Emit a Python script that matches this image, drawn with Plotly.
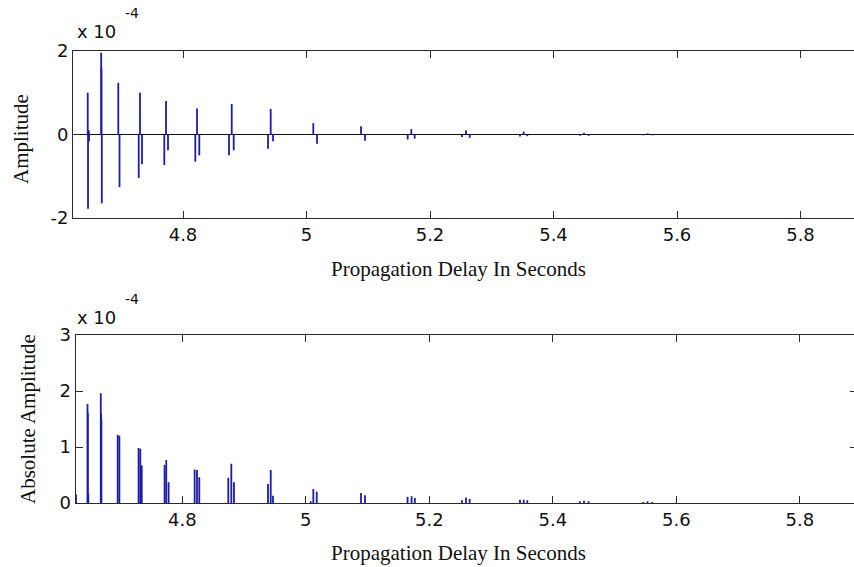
import plotly.graph_objects as go

# ---------------- data (amplitudes in units of 1e-4) ----------------
EXPONENT_LABEL = "-4"

top_delay = [4.6457, 4.6462, 4.6475, 4.6478,
             4.6675, 4.6680, 4.6685,
             4.6952, 4.6972,
             4.7283, 4.7304, 4.7336,
             4.7697, 4.7725, 4.7757,
             4.8199, 4.8227, 4.8264,
             4.8745, 4.8789, 4.8821,
             4.9377, 4.9420, 4.9458,
             5.0110, 5.0170,
             5.0883, 5.0947,
             5.1639, 5.1697, 5.1752,
             5.2518, 5.2583, 5.2643,
             5.3457, 5.3517, 5.3576,
             5.4429, 5.4494, 5.4570,
             5.5454, 5.5525, 5.5600]
top_amplitude = [1.00, -1.78, 0.10, -0.17,
                 1.96, 1.58, -1.65,
                 1.24, -1.26,
                 -1.04, 1.00, -0.71,
                 -0.73, 0.80, -0.38,
                 -0.65, 0.62, -0.50,
                 -0.50, 0.73, -0.38,
                 -0.34, 0.61, -0.16,
                 0.27, -0.22,
                 0.20, -0.15,
                 -0.12, 0.13, -0.10,
                 -0.06, 0.10, -0.08,
                 -0.05, 0.07, -0.04,
                 -0.03, 0.04, -0.03,
                 -0.02, 0.03, -0.02]

bottom_delay = [4.6279,
                4.6465, 4.6470, 4.6478,
                4.6680, 4.6685, 4.6690,
                4.6954, 4.6981,
                4.7292, 4.7320, 4.7343,
                4.7713, 4.7740, 4.7778,
                4.8200, 4.8238, 4.8275,
                4.8745, 4.8794, 4.8837,
                4.9388, 4.9432, 4.9469,
                5.0080, 5.0122, 5.0177,
                5.0894, 5.0959,
                5.1648, 5.1713, 5.1766,
                5.2530, 5.2594, 5.2654,
                5.3469, 5.3529, 5.3587,
                5.4440, 5.4505, 5.4580,
                5.5465, 5.5535, 5.5610]
bottom_abs_amplitude = [0.15,
                        1.77, 1.61, 0.17,
                        1.96, 1.60, 1.49,
                        1.22, 1.20,
                        0.98, 0.97, 0.67,
                        0.68, 0.77, 0.37,
                        0.60, 0.59, 0.46,
                        0.45, 0.70, 0.37,
                        0.34, 0.59, 0.13,
                        0.03, 0.25, 0.20,
                        0.18, 0.14,
                        0.11, 0.12, 0.09,
                        0.05, 0.10, 0.07,
                        0.06, 0.06, 0.05,
                        0.03, 0.04, 0.03,
                        0.02, 0.03, 0.02]

x_tick_vals = [4.8, 5.0, 5.2, 5.4, 5.6, 5.8]
x_tick_text = ["4.8", "5", "5.2", "5.4", "5.6", "5.8"]
top_y_tick_vals = [-2, 0, 2]
top_y_tick_text = ["-2", "0", "2"]
bottom_y_tick_vals = [0, 1, 2, 3]
bottom_y_tick_text = ["0", "1", "2", "3"]

x_label = "Propagation Delay In Seconds"
top_y_label = "Amplitude"
bottom_y_label = "Absolute Amplitude"

# ---------------- styling ----------------
W, H = 854, 567
BLUE = "rgb(28,28,170)"
AX = "#2a2a2a"
TICKFONT = dict(family="DejaVu Sans, Arial, sans-serif", size=18, color="#111")
SERIF = dict(family="Liberation Serif, Times New Roman, serif", size=21, color="#111")


def stems(xs, ys):
    sx, sy = [], []
    for x, y in zip(xs, ys):
        sx += [x, x, None]
        sy += [0, y, None]
    return sx, sy


def px(x):
    return x / W


def py(y):
    return 1 - y / H


fig = go.Figure()
tx, ty = stems(top_delay, top_amplitude)
fig.add_trace(go.Scatter(x=tx, y=ty, mode="lines", line=dict(color=BLUE, width=1.8),
                         xaxis="x", yaxis="y", hoverinfo="skip", showlegend=False))
bx, by = stems(bottom_delay, bottom_abs_amplitude)
fig.add_trace(go.Scatter(x=bx, y=by, mode="lines", line=dict(color=BLUE, width=1.8),
                         xaxis="x2", yaxis="y2", hoverinfo="skip", showlegend=False))
# empty traces so right-hand tick axes render
fig.add_trace(go.Scatter(x=[], y=[], xaxis="x", yaxis="y3", showlegend=False, hoverinfo="skip"))
fig.add_trace(go.Scatter(x=[], y=[], xaxis="x2", yaxis="y4", showlegend=False, hoverinfo="skip"))

# pixel geometry
top_left, top_top, top_bottom = 73, 51, 218
bot_left, bot_top, bot_bottom = 75.5, 335, 503
PX_PER_UNIT = 617.5
top_x0 = 4.8 - (183 - top_left) / PX_PER_UNIT
top_x1 = 4.8 + (W - 183) / PX_PER_UNIT
bot_x0 = 4.8 - (182.3 - bot_left) / PX_PER_UNIT
bot_x1 = 4.8 + (W - 182.3) / PX_PER_UNIT

common_x = dict(tickvals=x_tick_vals, ticktext=x_tick_text, ticks="inside", ticklen=7,
                tickwidth=1, tickcolor=AX, showline=True, linecolor=AX, linewidth=1,
                mirror="ticks", showgrid=False, zeroline=False, tickfont=TICKFONT,
                automargin=False)
common_y = dict(ticks="inside", ticklen=7, tickwidth=1, tickcolor=AX, showline=True,
                linecolor=AX, linewidth=1, mirror=False, showgrid=False, tickfont=TICKFONT,
                automargin=False)
right_y = dict(side="right", ticks="inside", ticklen=4, tickwidth=1, tickcolor=AX,
               showline=False, showgrid=False, zeroline=False, showticklabels=False,
               automargin=False)

fig.update_layout(
    width=W, height=H, autosize=False,
    margin=dict(l=0, r=0, t=0, b=0, pad=0, autoexpand=False),
    paper_bgcolor="white", plot_bgcolor="white", showlegend=False,
    xaxis=dict(domain=[px(top_left), 1], range=[top_x0, top_x1], anchor="y", **common_x),
    yaxis=dict(domain=[py(top_bottom), py(top_top)], range=[-2, 2], anchor="x",
               tickvals=top_y_tick_vals, ticktext=top_y_tick_text,
               zeroline=True, zerolinecolor="#111", zerolinewidth=1.2, **common_y),
    yaxis3=dict(overlaying="y", anchor="x", range=[-2, 2], tickvals=top_y_tick_vals, **right_y),
    xaxis2=dict(domain=[px(bot_left), 1], range=[bot_x0, bot_x1], anchor="y2", **common_x),
    yaxis2=dict(domain=[py(bot_bottom), py(bot_top)], range=[0, 3], anchor="x2",
                tickvals=bottom_y_tick_vals, ticktext=bottom_y_tick_text,
                zeroline=False, **common_y),
    yaxis4=dict(overlaying="y2", anchor="x2", range=[0, 3], tickvals=bottom_y_tick_vals, **right_y),
)

ann = []
# axis labels
ann.append(dict(text=x_label, x=px(458), y=py(269), xref="paper", yref="paper",
                xanchor="center", yanchor="middle", showarrow=False, font=SERIF))
ann.append(dict(text=x_label, x=px(458), y=py(553), xref="paper", yref="paper",
                xanchor="center", yanchor="middle", showarrow=False, font=SERIF))
ann.append(dict(text=top_y_label, x=px(20.5), y=py(139.5), xref="paper", yref="paper",
                xanchor="center", yanchor="middle", textangle=-90, showarrow=False, font=SERIF))
ann.append(dict(text=bottom_y_label, x=px(27.5), y=py(419.5), xref="paper", yref="paper",
                xanchor="center", yanchor="middle", textangle=-90, showarrow=False, font=SERIF))
# exponent labels
for base_y, exp_y in [(31.5, 13), (317.5, 299)]:
    ann.append(dict(text="x 10", x=px(75), y=py(base_y), xref="paper", yref="paper",
                    xanchor="left", yanchor="middle", showarrow=False, font=TICKFONT))
    ann.append(dict(text=EXPONENT_LABEL, x=px(123), y=py(exp_y), xref="paper", yref="paper",
                    xanchor="left", yanchor="middle", showarrow=False,
                    font=dict(family=TICKFONT["family"], size=14, color="#111")))
fig.update_layout(annotations=ann)

fig.write_html("out.html")
